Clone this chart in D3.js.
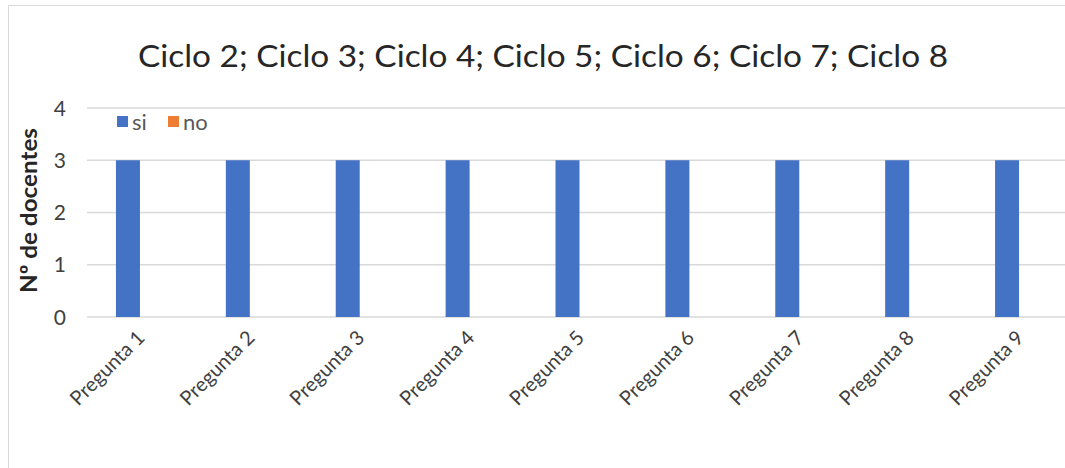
<!DOCTYPE html>
<html><head><meta charset="utf-8">
<script src="https://cdn.jsdelivr.net/npm/d3@7"></script>
<style>body{margin:0;background:#fff;} svg{display:block;}</style>
</head><body>
<svg id="c" width="1065" height="468"></svg>
<script>
const categories = ["Pregunta 1","Pregunta 2","Pregunta 3","Pregunta 4","Pregunta 5","Pregunta 6","Pregunta 7","Pregunta 8","Pregunta 9"];
const seriesNames = ["si","no"];
const siValues = [3,3,3,3,3,3,3,3,3];
const noValues = [0,0,0,0,0,0,0,0,0];
const yTicks = [0,1,2,3,4];
const colors = ["#4472C4","#ED7D31"];
const titleText = "Ciclo 2; Ciclo 3; Ciclo 4; Ciclo 5; Ciclo 6; Ciclo 7; Ciclo 8";
const yTitle = "Nº de docentes";

(function(){
const font = "Lato, 'Open Sans', sans-serif";
const svg = d3.select("#c");
svg.append("rect").attr("x",8.5).attr("y",5.5).attr("width",1070).attr("height",480)
  .attr("fill","#fff").attr("stroke","#d9d9d9");

const pLeft=85, pRight=1074, pTop=108, pBottom=317;
const x = d3.scaleBand().domain(categories).range([pLeft,pRight]);
const y = d3.scaleLinear().domain([0,4]).range([pBottom,pTop]);

svg.append("g").selectAll("line").data(yTicks).join("line")
  .attr("x1",87).attr("x2",1065).attr("y1",d=>y(d)).attr("y2",d=>y(d))
  .attr("stroke","#d9d9d9").attr("stroke-width",1.5);

const barW = 24;
const data = categories.map((c,i)=>({c, vals:[siValues[i],noValues[i]]}));
const g = svg.append("g");
data.forEach(d=>{
  d.vals.forEach((v,j)=>{
    const cx = x(d.c)+x.bandwidth()/2;
    g.append("rect").attr("x",cx-barW+j*barW).attr("width",barW)
      .attr("y",y(v)).attr("height",y(0)-y(v)).attr("fill",colors[j]);
  });
});

svg.append("g").selectAll("text").data(yTicks).join("text")
  .attr("x",66).attr("y",d=>y(d)).attr("dy","0.36em").attr("text-anchor","end")
  .attr("font-family",font).attr("font-size",21).attr("fill","#404040").text(d=>d);

svg.append("g").selectAll("text").data(categories).join("text")
  .attr("text-anchor","end").attr("font-family",font).attr("font-size",20).attr("fill","#404040")
  .attr("transform",d=>`translate(${x(d)+x.bandwidth()/2+6},${pBottom+22}) rotate(-45)`)
  .text(d=>d);

svg.append("text").attr("x",543).attr("y",67).attr("text-anchor","middle")
  .attr("font-family",font).attr("font-size",31).attr("fill","#262626")
  .attr("textLength",810).attr("lengthAdjust","spacingAndGlyphs").text(titleText);

svg.append("text").attr("transform","translate(37,210.5) rotate(-90)").attr("text-anchor","middle")
  .attr("font-family",font).attr("font-size",23).attr("font-weight","bold").attr("fill","#262626")
  .attr("textLength",165).attr("lengthAdjust","spacingAndGlyphs").text(yTitle);

const leg = svg.append("g");
const legX=[117,168];
seriesNames.forEach((n,i)=>{
  leg.append("rect").attr("x",legX[i]).attr("y",116).attr("width",11).attr("height",11).attr("fill",colors[i]);
  leg.append("text").attr("x",legX[i]+15).attr("y",122).attr("dy","0.35em")
    .attr("font-family",font).attr("font-size",22).attr("fill","#595959").text(n);
});
})();
</script>
</body></html>
